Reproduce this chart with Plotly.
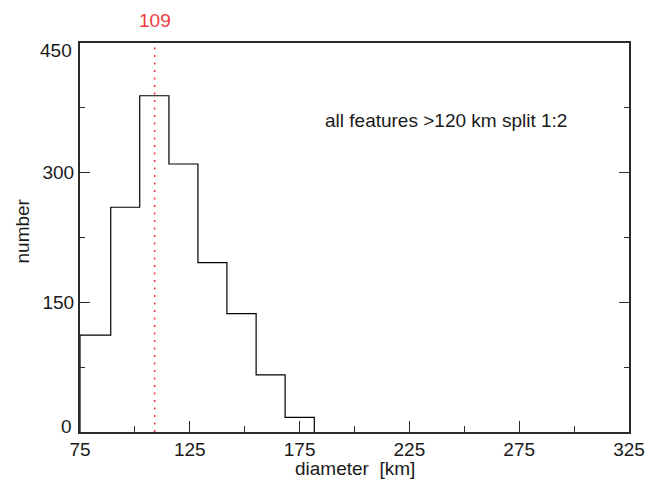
import plotly.graph_objects as go

# ---- data ----
bin_edges = [75.0, 89.0, 102.2, 115.5, 128.7, 141.9, 155.2, 168.4, 181.7]
counts = [112, 260, 389, 310, 196, 137, 66, 17]
median_value = 109
median_label = "109"
note_text = "all features >120 km split 1:2"
x_title = "diameter  [km]"
y_title = "number"
x_ticks = [75, 125, 175, 225, 275, 325]
y_ticks = [0, 150, 300, 450]
# the end labels of the y axis sit slightly inside the range (as in the source)
y_label_nudge = {0: 6, 450: -7}

# step outline of the histogram
xs, ys = [], []
for i, c in enumerate(counts):
    xs += [bin_edges[i], bin_edges[i], bin_edges[i + 1]]
    ys += [0 if i == 0 else counts[i - 1], c, c]
xs.append(bin_edges[-1])
ys.append(0)

FONT = "Liberation Sans, Arial, Helvetica, sans-serif"
AX = "#2b2b2b"
TXT = "#1a1a1a"

fig = go.Figure()
fig.add_trace(go.Scatter(x=xs, y=ys, mode="lines",
                         line=dict(color="black", width=1.2),
                         hoverinfo="skip", showlegend=False))
fig.add_trace(go.Scatter(x=[median_value, median_value], y=[0, 450], mode="lines",
                         line=dict(color="#ee3a3f", width=1.6, dash="2px,5.5px"),
                         hoverinfo="skip", showlegend=False))

fig.add_annotation(x=median_value, y=1, xref="x", yref="paper", text=median_label,
                   showarrow=False, yanchor="middle", yshift=23,
                   font=dict(color="#ee3a3f", size=19, family=FONT))
fig.add_annotation(x=241.7, y=360, xref="x", yref="y", text=note_text,
                   showarrow=False, xanchor="center", yanchor="middle",
                   font=dict(color=TXT, size=19, family=FONT))
# axis titles
fig.add_annotation(x=0.5, y=0, xref="paper", yref="paper", text=x_title,
                   showarrow=False, xanchor="center", yanchor="middle", yshift=-36,
                   font=dict(color=TXT, size=19, family=FONT))
fig.add_annotation(x=0, y=0.5, xref="paper", yref="paper", text=y_title,
                   showarrow=False, xanchor="center", yanchor="middle",
                   xshift=-58, yshift=6, textangle=-90,
                   font=dict(color=TXT, size=19, family=FONT))
# nudged end labels of the y axis
for v, nudge in y_label_nudge.items():
    fig.add_annotation(x=0, y=v, xref="paper", yref="y", text=str(v),
                       showarrow=False, xanchor="right", yanchor="middle",
                       xshift=-6, yshift=nudge,
                       font=dict(color=TXT, size=19, family=FONT))

fig.update_xaxes(range=[75, 325], tickvals=x_ticks, ticktext=[str(v) for v in x_ticks],
                 ticks="inside", ticklen=11, tickwidth=1.3, tickcolor=AX,
                 minor=dict(dtick=25, tick0=75, ticks="inside", ticklen=6, tickwidth=1.3, tickcolor=AX),
                 showline=True, linecolor=AX, linewidth=2, mirror=True,
                 showgrid=False, zeroline=False, automargin=False,
                 ticklabelstandoff=-1, ticklabeloverflow="allow",
                 tickfont=dict(size=19, family=FONT, color=TXT))
fig.update_yaxes(range=[0, 450], tickvals=y_ticks,
                 ticktext=["" if v in y_label_nudge else str(v) for v in y_ticks],
                 ticks="inside", ticklen=10, tickwidth=1.3, tickcolor=AX,
                 minor=dict(dtick=75, tick0=0, ticks="inside", ticklen=5, tickwidth=1.3, tickcolor=AX),
                 showline=True, linecolor=AX, linewidth=2, mirror="ticks",
                 showgrid=False, zeroline=False, automargin=False,
                 tickfont=dict(size=19, family=FONT, color=TXT))

fig.update_layout(width=646, height=479,
                  margin=dict(l=80, r=17, t=43, b=47),
                  paper_bgcolor="white", plot_bgcolor="white",
                  showlegend=False)

# remove the default page margin so the figure fills the window exactly
fig.write_html("out.html",
               config=dict(displayModeBar=False),
               post_script="document.body.style.margin='0';document.body.style.overflow='hidden';")
